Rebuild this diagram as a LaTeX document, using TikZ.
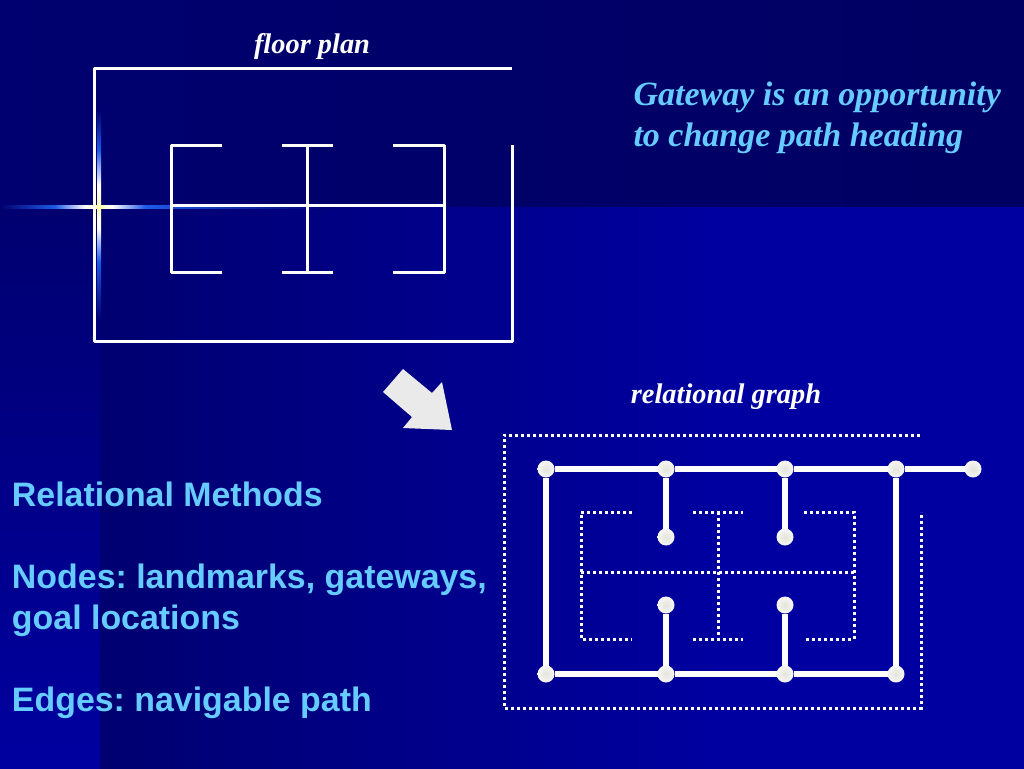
\documentclass[tikz,border=0pt]{standalone}
\usepackage{fontspec}
\usepackage{xcolor}
\setmainfont{Liberation Serif}
\setsansfont{Liberation Sans}
\usepackage{tikz}
\definecolor{navy}{HTML}{000070}
\definecolor{dusk}{HTML}{000062}
\definecolor{royal}{HTML}{0000A0}
\definecolor{sky}{HTML}{66CCFF}
\definecolor{flash}{HTML}{1E5AE6}
\definecolor{glint}{HTML}{FFFFB0}
\definecolor{pearl}{HTML}{EAEAEA}
\definecolor{pearlc}{HTML}{E4E4DA}
\definecolor{pearlr}{HTML}{F6F6F6}
\pgfdeclarehorizontalshading{sparkh}{100bp}{color(0bp)=(navy); color(25bp)=(navy); color(33.3bp)=(flash); color(37.9bp)=(white); color(40bp)=(glint); color(42bp)=(white); color(47bp)=(flash); color(75bp)=(navy); color(100bp)=(navy)}
\pgfdeclareverticalshading{sparkv}{100bp}{color(0bp)=(navy); color(25bp)=(navy); color(38.8bp)=(flash); color(46.9bp)=(white); color(52.1bp)=(glint); color(57.1bp)=(white); color(65.5bp)=(flash); color(75bp)=(navy); color(100bp)=(navy)}
\tikzset{
  wall/.style={draw=white, line width=3pt, line join=round},
  dots/.style={draw=white, line width=3pt, dash pattern=on 3pt off 3pt},
  path/.style={draw=white, line width=5.5pt},
  stop/.style={circle, inner color=pearlc, outer color=pearlr, inner sep=0pt, outer sep=0pt, minimum size=17pt},
  title/.style={font=\rmfamily\bfseries\itshape\fontsize{28.4}{34}\selectfont, text=white, inner sep=0pt, anchor=base},
  note/.style={font=\rmfamily\bfseries\itshape\fontsize{34}{41}\selectfont, text=sky, inner sep=0pt, anchor=base west},
  body/.style={font=\sffamily\bfseries\fontsize{33.9}{41}\selectfont, text=sky, inner sep=0pt, anchor=base west}
}

\begin{document}
\frenchspacing
\begin{tikzpicture}[x=1pt, y=-1pt, line width=3pt]
    \useasboundingbox (0,0) rectangle (1024,768);
    % background
    \fill[left color=navy, right color=dusk] (0,0) rectangle (1024,207);
    \fill[left color=navy, right color=royal] (100,207) rectangle (720,771);
    \fill[royal] (719,207) rectangle (1027,771);
    \fill[top color=navy, bottom color=royal] (0,207) rectangle (100,771);

    % sparkle
    \shade[shading=sparkh] (0,205) rectangle (330,208);
    \shade[shading=sparkv] (97,110) rectangle (101,320);

    % floor plan
    \node[title](fp) at (312,53) {floor plan};
    \draw[wall] (512,68) -- (94.5,68) -- (94.5,341) -- (512,341) -- (512,145);
    \draw[wall] (222,145) -- (171,145) -- (171,272) -- (222,272);
    \draw[wall] (282,145) -- (333,145) (307,145) -- (307,272) (282,272) -- (333,272);
    \draw[wall] (393,145) -- (444,145) -- (444,272) -- (393,272);
    \draw[wall] (171,205) -- (444,205);

    % arrow
    \fill[pearl] (383,392) -- (403,369) -- (432,393) -- (442,382) -- (452,430) -- (403,428) -- (412,417) -- cycle;

    % texts
    \node[note](gw) at (632,105) {Gateway is an opportunity};
    \node[note](cp) at (632,146) {to change path heading};
    \node[title](rg) at (726,403) {relational graph};
    \node[body](rm) at (10.5,506) {Relational Methods};
    \node[body](nd) at (10.5,588) {Nodes: landmarks, gateways,};
    \node[body](gl) at (10.5,629) {goal locations};
    \node[body](ed) at (10.5,711) {Edges: navigable path};

    % dotted plan
    \draw[dots] (920,435) -- (504,435) -- (504,708) -- (921,708) -- (921,512);
    \draw[dots] (632,512) -- (581,512) -- (581,639) -- (632,639);
    \draw[dots] (693,512) -- (743,512) (718,512) -- (718,639) (693,639) -- (743,639);
    \draw[dots] (804,512) -- (854,512) -- (854,639) -- (804,639);
    \draw[dots] (581,572) -- (854,572);

    % graph
    \node[stop](a1) at (546,469) {};
    \node[stop](a2) at (666,469) {};
    \node[stop](a3) at (785,469) {};
    \node[stop](a4) at (896,469) {};
    \node[stop](a5) at (973,469) {};
    \node[stop](b2) at (666,537) {};
    \node[stop](b3) at (785,537) {};
    \node[stop](c2) at (666,605) {};
    \node[stop](c3) at (785,605) {};
    \node[stop](d1) at (546,674) {};
    \node[stop](d2) at (666,674) {};
    \node[stop](d3) at (785,674) {};
    \node[stop](d4) at (896,674) {};

    \draw[path](a1) edge (a2)
              (a2) edge (a3)
              (a3) edge (a4)
              (a4) edge (a5)
              (a1) edge (d1)
              (a4) edge (d4)
              (a2) edge (b2)
              (a3) edge (b3)
              (c2) edge (d2)
              (c3) edge (d3)
              (d1) edge (d2)
              (d2) edge (d3)
              (d3) edge (d4);
  \end{tikzpicture}
\end{document}
